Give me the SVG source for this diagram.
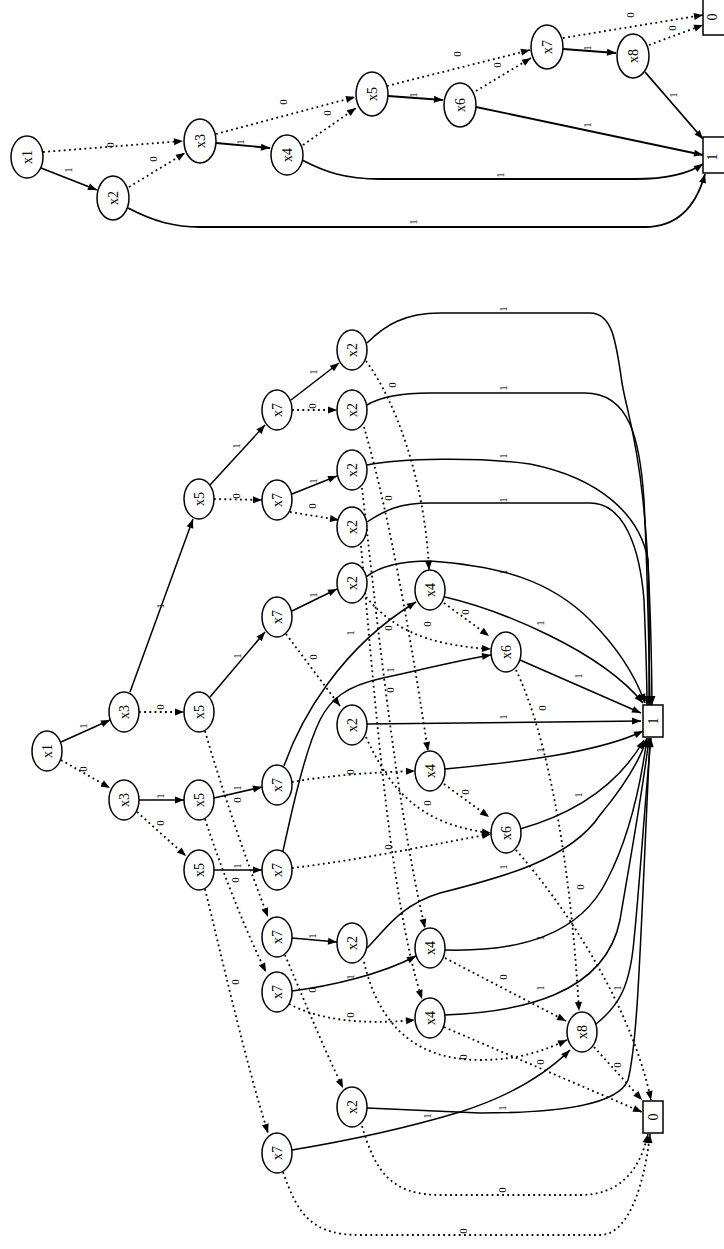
<svg xmlns="http://www.w3.org/2000/svg" width="724" height="1249" viewBox="0 0 724 1249">
<defs>
<marker id="ah" markerUnits="userSpaceOnUse" markerWidth="9" markerHeight="7" refX="9" refY="3.5" orient="auto" overflow="visible">
<path d="M0,0 L9,3.5 L0,7 z" fill="#000" stroke="none"/>
</marker>
<style>
.n ellipse,.n rect{fill:#fff;stroke:#000;stroke-width:1.5}
.n text{font-family:"Liberation Serif",serif;font-size:14px;text-anchor:middle;dominant-baseline:central;fill:#000}
.e path{fill:none;stroke:#000;marker-end:url(#ah)}
.e .s{stroke-width:1.5}
.e .d{stroke-width:1.8;stroke-dasharray:1.8 3.4}
.e text{font-family:"Liberation Serif",serif;font-size:11px;text-anchor:middle;dominant-baseline:central;fill:#000}
#top-edges .s{stroke-width:1.8}
</style>
</defs>
<rect width="724" height="1249" fill="#fff"/>

<!-- ===== Top BDD connectors ===== -->
<g id="top-edges" class="e">
<path class="d" d="M43,152 L183,141"/><text transform="translate(110,145) rotate(-90)">0</text>
<path class="s" d="M41,168 L97,190"/><text transform="translate(68,170) rotate(-90)">1</text>
<path class="d" d="M129,187 L185,153"/><text transform="translate(153,159) rotate(-90)">0</text>
<path class="s" d="M216,143 L270,148"/><text transform="translate(240,142) rotate(-90)">1</text>
<path class="d" d="M216,134 L355,97"/><text transform="translate(283,102) rotate(-90)">0</text>
<path class="d" d="M303,145 L356,108"/><text transform="translate(327,113) rotate(-90)">0</text>
<path class="s" d="M302,160 C325,172 345,179 380,179 L635,179 C665,179 688,174 703,164"/><text transform="translate(500,175) rotate(-90)">1</text>
<path class="s" d="M128,208 C155,222 175,227 200,227 L645,227 C675,227 695,210 705,174"/><text transform="translate(413,222) rotate(-90)">1</text>
<path class="s" d="M388,96 L443,100"/><text transform="translate(413,95) rotate(-90)">1</text>
<path class="d" d="M387,86 L530,50"/><text transform="translate(457,54) rotate(-90)">0</text>
<path class="d" d="M476,91 L531,58"/><text transform="translate(497,65) rotate(-90)">0</text>
<path class="s" d="M476,107 L703,155"/><text transform="translate(587,125) rotate(-90)">1</text>
<path class="s" d="M563,49 L616,53"/><text transform="translate(587,48) rotate(-90)">1</text>
<path class="d" d="M563,38 L703,15"/><text transform="translate(630,15) rotate(-90)">0</text>
<path class="d" d="M649,45 L703,25"/><text transform="translate(672,28) rotate(-90)">0</text>
<path class="s" d="M645,72 L703,139"/><text transform="translate(673,95) rotate(-90)">1</text>
</g>

<!-- ===== Top BDD nodes ===== -->
<g id="t-x1" class="n"><ellipse cx="27" cy="157" rx="16" ry="21"/><text transform="translate(27,157) rotate(-90)">x1</text></g>
<g id="t-x2" class="n"><ellipse cx="113" cy="198" rx="16" ry="22"/><text transform="translate(113,198) rotate(-90)">x2</text></g>
<g id="t-x3" class="n"><ellipse cx="200" cy="141" rx="16" ry="22"/><text transform="translate(200,141) rotate(-90)">x3</text></g>
<g id="t-x4" class="n"><ellipse cx="287" cy="155" rx="16" ry="20"/><text transform="translate(287,155) rotate(-90)">x4</text></g>
<g id="t-x5" class="n"><ellipse cx="372" cy="94" rx="16" ry="22"/><text transform="translate(372,94) rotate(-90)">x5</text></g>
<g id="t-x6" class="n"><ellipse cx="460" cy="105" rx="16" ry="22"/><text transform="translate(460,105) rotate(-90)">x6</text></g>
<g id="t-x7" class="n"><ellipse cx="547" cy="47" rx="16" ry="22"/><text transform="translate(547,47) rotate(-90)">x7</text></g>
<g id="t-x8" class="n"><ellipse cx="633" cy="56" rx="16" ry="22"/><text transform="translate(633,56) rotate(-90)">x8</text></g>
<g id="t-0" class="n"><rect x="703" y="-2" width="30" height="37"/><text transform="translate(712,17) rotate(-90)">0</text></g>
<g id="t-1" class="n"><rect x="703" y="137" width="30" height="36"/><text transform="translate(712,157) rotate(-90)">1</text></g>

<!-- ===== Big BDD connectors ===== -->
<g id="big-edges" class="e">
<!-- solid (1) -->
<path class="s" d="M61,742 L110,720"/><text transform="translate(83,726) rotate(-90)">1</text>
<path class="s" d="M130,692 L193,519"/><text transform="translate(160,606) rotate(-90)">1</text>
<path class="s" d="M139,800 L184,800"/><text transform="translate(160,796) rotate(-90)">1</text>
<path class="s" d="M210,485 L265,425"/><text transform="translate(236,446) rotate(-90)">1</text>
<path class="s" d="M210,697 L265,632"/><text transform="translate(237,656) rotate(-90)">1</text>
<path class="s" d="M214,798 L262,787"/><text transform="translate(237,788) rotate(-90)">1</text>
<path class="s" d="M214,870 L262,870"/><text transform="translate(237,866) rotate(-90)">1</text>
<path class="s" d="M291,400 L339,363"/><text transform="translate(313,372) rotate(-90)">1</text>
<path class="s" d="M292,494 L337,476"/><text transform="translate(313,481) rotate(-90)">1</text>
<path class="s" d="M292,611 L337,589"/><text transform="translate(313,595) rotate(-90)">1</text>
<path class="s" d="M284,766 C300,720 340,648 416,602"/><text transform="translate(350,633) rotate(-90)">1</text>
<path class="s" d="M283,851 C292,810 305,750 320,720 C330,700 345,686 383,678 C420,670 460,660 491,655"/><text transform="translate(390,670) rotate(-90)">1</text>
<path class="s" d="M292,938 L337,942"/><text transform="translate(312,936) rotate(-90)">1</text>
<path class="s" d="M292,991 C330,986 380,975 416,956"/><text transform="translate(350,977) rotate(-90)">1</text>
<path class="s" d="M292,1150 C340,1142 400,1130 460,1112 C510,1096 545,1075 570,1050"/><text transform="translate(427,1116) rotate(-90)">1</text>
<path class="s" d="M367,343 C385,325 405,313 440,313 L590,313 C612,313 616,340 622,383 C630,430 650,460 652,705"/><text transform="translate(503,309) rotate(-90)">1</text>
<path class="s" d="M367,405 C380,397 400,393 430,393 L585,393 C630,393 640,440 644,500 C647,560 649,650 650,705"/><text transform="translate(503,388) rotate(-90)">1</text>
<path class="s" d="M367,465 C400,458 480,457 530,464 C600,478 640,515 648,560 C650,610 649,670 649,705"/><text transform="translate(503,456) rotate(-90)">1</text>
<path class="s" d="M367,522 C385,510 400,503 430,503 L590,503 C625,503 640,550 644,600 C646,650 647,690 647,705"/><text transform="translate(503,500) rotate(-90)">1</text>
<path class="s" d="M366,577 C380,566 400,561 430,561 C500,566 550,580 590,620 C615,645 635,675 645,703"/><text transform="translate(503,572) rotate(-90)">1</text>
<path class="s" d="M367,724 L641,721"/><text transform="translate(503,717) rotate(-90)">1</text>
<path class="s" d="M367,948 C385,930 400,905 440,893 C500,878 570,860 600,815 C625,785 640,760 647,738"/><text transform="translate(503,867) rotate(-90)">1</text>
<path class="s" d="M367,1108 L480,1113 C560,1113 618,1105 628,1080 C638,1040 640,950 650,738"/><text transform="translate(502,1108) rotate(-90)">1</text>
<path class="s" d="M445,597 C500,610 600,650 643,703"/><text transform="translate(540,623) rotate(-90)">1</text>
<path class="s" d="M445,769 C520,762 600,752 643,731"/><text transform="translate(540,750) rotate(-90)">1</text>
<path class="s" d="M445,950 C520,952 580,935 607,880 C628,840 640,790 647,738"/><text transform="translate(540,938) rotate(-90)">1</text>
<path class="s" d="M445,1015 C520,1012 605,995 620,920 C630,860 643,790 649,738"/><text transform="translate(540,988) rotate(-90)">1</text>
<path class="s" d="M520,660 L641,713"/><text transform="translate(578,676) rotate(-90)">1</text>
<path class="s" d="M520,829 C580,812 620,782 644,740"/><text transform="translate(578,795) rotate(-90)">1</text>
<path class="s" d="M596,1024 C620,1005 630,985 634,940 C640,880 645,800 651,738"/><text transform="translate(617,988) rotate(-90)">1</text>
<!-- dotted (0) -->
<path class="d" d="M61,760 L110,788"/><text transform="translate(83,769) rotate(-90)">0</text>
<path class="d" d="M139,712 L184,712"/><text transform="translate(160,707) rotate(-90)">0</text>
<path class="d" d="M137,812 L186,856"/><text transform="translate(160,823) rotate(-90)">0</text>
<path class="d" d="M214,499 L262,500"/><text transform="translate(236,496) rotate(-90)">0</text>
<path class="d" d="M205,731 C225,800 250,870 268,917"/><text transform="translate(237,800) rotate(-90)">0</text>
<path class="d" d="M205,819 C225,880 250,940 266,972"/><text transform="translate(235,880) rotate(-90)">0</text>
<path class="d" d="M205,889 C220,950 245,1060 268,1133"/><text transform="translate(235,982) rotate(-90)">0</text>
<path class="d" d="M292,410 L337,410"/><text transform="translate(312,406) rotate(-90)">0</text>
<path class="d" d="M290,512 L339,520"/><text transform="translate(312,506) rotate(-90)">0</text>
<path class="d" d="M286,634 L340,706"/><text transform="translate(313,657) rotate(-90)">0</text>
<path class="d" d="M292,782 C330,775 380,772 415,771"/><text transform="translate(350,772) rotate(-90)">0</text>
<path class="d" d="M292,868 C360,860 430,845 491,834"/><text transform="translate(388,847) rotate(-90)">0</text>
<path class="d" d="M285,955 C300,990 320,1040 343,1088"/><text transform="translate(312,990) rotate(-90)">0</text>
<path class="d" d="M289,1004 C320,1020 360,1025 415,1020"/><text transform="translate(350,1015) rotate(-90)">0</text>
<path class="d" d="M283,1172 C298,1215 312,1235 360,1235 L600,1235 C630,1235 645,1180 650,1134"/><text transform="translate(463,1231) rotate(-90)">0</text>
<path class="d" d="M366,361 C395,400 425,480 429,570"/><text transform="translate(392,385) rotate(-90)">0</text>
<path class="d" d="M364,427 C385,500 405,600 428,751"/><text transform="translate(388,498) rotate(-90)">0</text>
<path class="d" d="M362,488 C375,600 395,800 425,928"/><text transform="translate(388,628) rotate(-90)">0</text>
<path class="d" d="M361,546 C375,700 390,900 422,999"/><text transform="translate(390,690) rotate(-90)">0</text>
<path class="d" d="M366,597 C390,625 420,645 491,649"/><text transform="translate(427,624) rotate(-90)">0</text>
<path class="d" d="M366,737 C390,790 420,825 491,833"/><text transform="translate(427,803) rotate(-90)">0</text>
<path class="d" d="M364,962 C380,1030 420,1060 480,1060 C520,1060 545,1050 567,1040"/><text transform="translate(463,1057) rotate(-90)">0</text>
<path class="d" d="M362,1126 C375,1170 390,1195 440,1195 L580,1195 C620,1195 640,1170 648,1134"/><text transform="translate(502,1190) rotate(-90)">0</text>
<path class="d" d="M444,603 L489,636"/><text transform="translate(465,612) rotate(-90)">0</text>
<path class="d" d="M444,784 L489,817"/><text transform="translate(465,792) rotate(-90)">0</text>
<path class="d" d="M445,958 L566,1021"/><text transform="translate(503,977) rotate(-90)">0</text>
<path class="d" d="M444,1027 L642,1112"/><text transform="translate(540,1062) rotate(-90)">0</text>
<path class="d" d="M516,670 C545,730 570,850 579,1011"/><text transform="translate(542,708) rotate(-90)">0</text>
<path class="d" d="M516,850 C560,900 630,1000 651,1100"/><text transform="translate(580,887) rotate(-90)">0</text>
<path class="d" d="M594,1047 L642,1100"/><text transform="translate(617,1065) rotate(-90)">0</text>
</g>

<!-- ===== Big BDD nodes ===== -->
<g id="b-x1" class="n"><ellipse cx="47" cy="751" rx="15" ry="20"/><text transform="translate(47,751) rotate(-90)">x1</text></g>
<g id="b-x3a" class="n"><ellipse cx="124" cy="712" rx="15" ry="20"/><text transform="translate(124,712) rotate(-90)">x3</text></g>
<g id="b-x3b" class="n"><ellipse cx="124" cy="800" rx="15" ry="20"/><text transform="translate(124,800) rotate(-90)">x3</text></g>
<g id="b-x5a" class="n"><ellipse cx="199" cy="499" rx="15" ry="20"/><text transform="translate(199,499) rotate(-90)">x5</text></g>
<g id="b-x5b" class="n"><ellipse cx="199" cy="712" rx="15" ry="20"/><text transform="translate(199,712) rotate(-90)">x5</text></g>
<g id="b-x5c" class="n"><ellipse cx="199" cy="800" rx="15" ry="20"/><text transform="translate(199,800) rotate(-90)">x5</text></g>
<g id="b-x5d" class="n"><ellipse cx="199" cy="870" rx="15" ry="20"/><text transform="translate(199,870) rotate(-90)">x5</text></g>
<g id="b-x7a" class="n"><ellipse cx="277" cy="410" rx="15" ry="20"/><text transform="translate(277,410) rotate(-90)">x7</text></g>
<g id="b-x7b" class="n"><ellipse cx="277" cy="500" rx="15" ry="20"/><text transform="translate(277,500) rotate(-90)">x7</text></g>
<g id="b-x7c" class="n"><ellipse cx="277" cy="617" rx="15" ry="20"/><text transform="translate(277,617) rotate(-90)">x7</text></g>
<g id="b-x7d" class="n"><ellipse cx="277" cy="785" rx="15" ry="20"/><text transform="translate(277,785) rotate(-90)">x7</text></g>
<g id="b-x7e" class="n"><ellipse cx="277" cy="870" rx="15" ry="20"/><text transform="translate(277,870) rotate(-90)">x7</text></g>
<g id="b-x7f" class="n"><ellipse cx="277" cy="937" rx="15" ry="20"/><text transform="translate(277,937) rotate(-90)">x7</text></g>
<g id="b-x7g" class="n"><ellipse cx="277" cy="992" rx="15" ry="20"/><text transform="translate(277,992) rotate(-90)">x7</text></g>
<g id="b-x7h" class="n"><ellipse cx="277" cy="1153" rx="15" ry="20"/><text transform="translate(277,1153) rotate(-90)">x7</text></g>
<g id="b-x2a" class="n"><ellipse cx="352" cy="350" rx="15" ry="20"/><text transform="translate(352,350) rotate(-90)">x2</text></g>
<g id="b-x2b" class="n"><ellipse cx="352" cy="410" rx="15" ry="20"/><text transform="translate(352,410) rotate(-90)">x2</text></g>
<g id="b-x2c" class="n"><ellipse cx="352" cy="470" rx="15" ry="20"/><text transform="translate(352,470) rotate(-90)">x2</text></g>
<g id="b-x2d" class="n"><ellipse cx="352" cy="527" rx="15" ry="20"/><text transform="translate(352,527) rotate(-90)">x2</text></g>
<g id="b-x2e" class="n"><ellipse cx="352" cy="583" rx="15" ry="20"/><text transform="translate(352,583) rotate(-90)">x2</text></g>
<g id="b-x2f" class="n"><ellipse cx="352" cy="725" rx="15" ry="20"/><text transform="translate(352,725) rotate(-90)">x2</text></g>
<g id="b-x2g" class="n"><ellipse cx="352" cy="943" rx="15" ry="20"/><text transform="translate(352,943) rotate(-90)">x2</text></g>
<g id="b-x2h" class="n"><ellipse cx="352" cy="1107" rx="15" ry="20"/><text transform="translate(352,1107) rotate(-90)">x2</text></g>
<g id="b-x4a" class="n"><ellipse cx="430" cy="590" rx="15" ry="20"/><text transform="translate(430,590) rotate(-90)">x4</text></g>
<g id="b-x4b" class="n"><ellipse cx="430" cy="771" rx="15" ry="20"/><text transform="translate(430,771) rotate(-90)">x4</text></g>
<g id="b-x4c" class="n"><ellipse cx="430" cy="948" rx="15" ry="20"/><text transform="translate(430,948) rotate(-90)">x4</text></g>
<g id="b-x4d" class="n"><ellipse cx="430" cy="1018" rx="15" ry="20"/><text transform="translate(430,1018) rotate(-90)">x4</text></g>
<g id="b-x6a" class="n"><ellipse cx="506" cy="652" rx="15" ry="20"/><text transform="translate(506,652) rotate(-90)">x6</text></g>
<g id="b-x6b" class="n"><ellipse cx="506" cy="833" rx="15" ry="20"/><text transform="translate(506,833) rotate(-90)">x6</text></g>
<g id="b-x8" class="n"><ellipse cx="582" cy="1032" rx="15" ry="20"/><text transform="translate(582,1032) rotate(-90)">x8</text></g>
<g id="b-1" class="n"><rect x="643" y="705" width="20" height="32"/><text transform="translate(653,721) rotate(-90)">1</text></g>
<g id="b-0" class="n"><rect x="643" y="1101" width="20" height="32"/><text transform="translate(653,1117) rotate(-90)">0</text></g>
</svg>
